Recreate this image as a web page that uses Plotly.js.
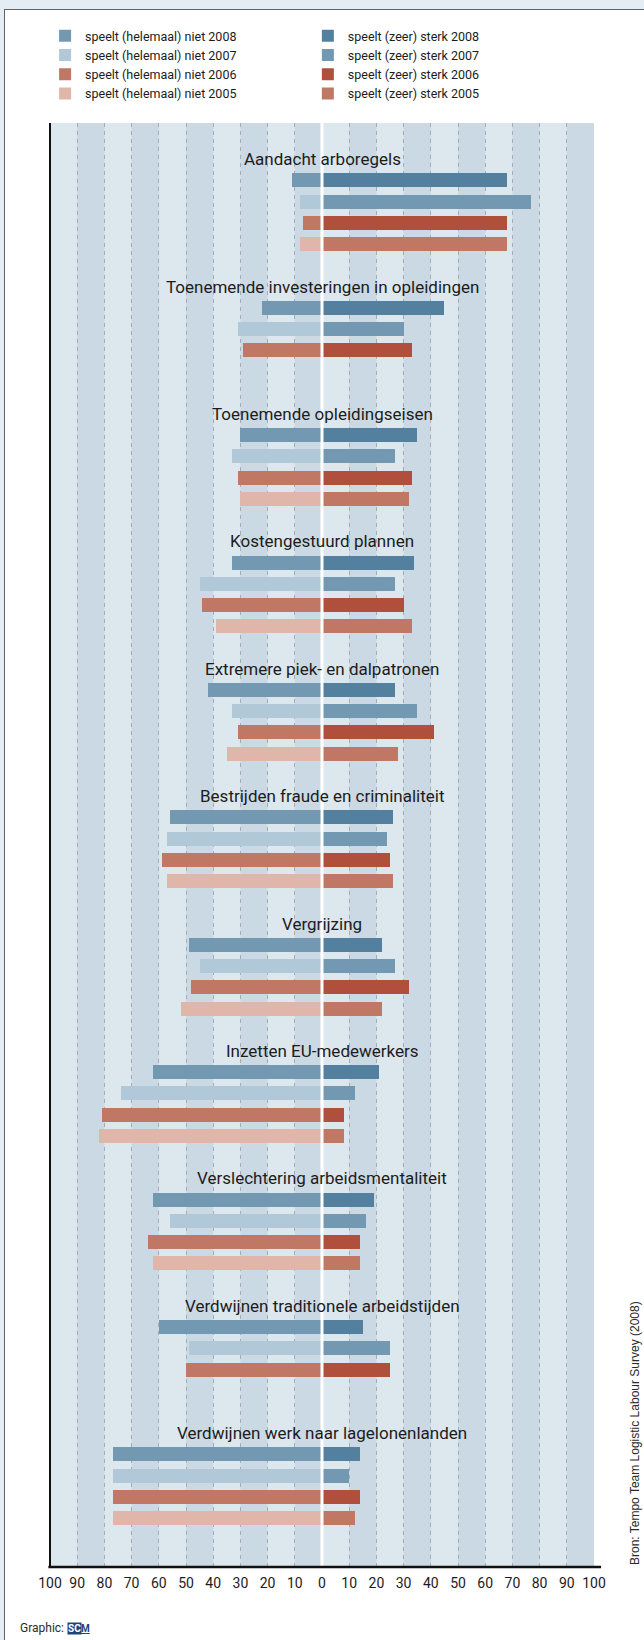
<!DOCTYPE html>
<html><head><meta charset="utf-8">
<script src="https://cdn.plot.ly/plotly-3.0.1.min.js"></script>
<style>
html,body{margin:0;padding:0;background:#e3edf3;width:644px;height:1640px;overflow:hidden;}
#panel{position:absolute;left:4px;top:9px;width:640px;height:1631px;background:#ffffff;border-left:1px solid #5f6468;border-top:1px solid #5f6468;}
#chart{position:absolute;left:0;top:0;width:644px;height:1640px;}
</style></head><body>
<div id="panel"></div>
<div id="chart"></div>
<script>
// ---- data ----
const categories = [
  "Aandacht arboregels",
  "Toenemende investeringen in opleidingen",
  "Toenemende opleidingseisen",
  "Kostengestuurd plannen",
  "Extremere piek- en dalpatronen",
  "Bestrijden fraude en criminaliteit",
  "Vergrijzing",
  "Inzetten EU-medewerkers",
  "Verslechtering arbeidsmentaliteit",
  "Verdwijnen traditionele arbeidstijden",
  "Verdwijnen werk naar lagelonenlanden"
];
const seriesNames = [
  "speelt (helemaal) niet 2008", "speelt (helemaal) niet 2007",
  "speelt (helemaal) niet 2006", "speelt (helemaal) niet 2005",
  "speelt (zeer) sterk 2008", "speelt (zeer) sterk 2007",
  "speelt (zeer) sterk 2006", "speelt (zeer) sterk 2005"
];
const niet2008  = [11, 22, 30, 33, 42, 56, 49, 62, 62, 60, 77];
const niet2007  = [ 8, 31, 33, 45, 33, 57, 45, 74, 56, 49, 77];
const niet2006  = [ 7, 29, 31, 44, 31, 59, 48, 81, 64, 50, 77];
const niet2005  = [ 8, null, 30, 39, 35, 57, 52, 82, 62, null, 77];
const sterk2008 = [68, 45, 35, 34, 27, 26, 22, 21, 19, 15, 14];
const sterk2007 = [77, 30, 27, 27, 35, 24, 27, 12, 16, 25, 10];
const sterk2006 = [68, 33, 33, 30, 41, 25, 32,  8, 14, 25, 14];
const sterk2005 = [68, null, 32, 33, 28, 26, 22,  8, 14, null, 12];
const tickValues = [-100,-90,-80,-70,-60,-50,-40,-30,-20,-10,0,10,20,30,40,50,60,70,80,90,100];
const tickLabels = ["100","90","80","70","60","50","40","30","20","10","0","10","20","30","40","50","60","70","80","90","100"];
const sourceText = "Bron: Tempo Team Logistic Labour Survey (2008)";

// ---- styling ----
const NARROW = "Roboto, 'Liberation Sans', sans-serif";
const REGULAR = "'Liberation Sans', Arial, sans-serif";
const colors = ["#7399b2","#b0c8d7","#c07864","#e0b6aa","#52809e","#7399b2","#b0503c","#c07864"];
const SLOTS = 6;             // rows per category: title + 4 bars + gap
const yPos = (i, j) => i * SLOTS + 1 + j;

const nietData = [niet2008, niet2007, niet2006, niet2005];
const sterkData = [sterk2008, sterk2007, sterk2006, sterk2005];

const traces = [];
nietData.forEach((arr, j) => {
  traces.push({
    type: "bar", orientation: "h", name: seriesNames[j],
    x: arr.map(v => v == null ? null : -v),
    y: categories.map((c, i) => yPos(i, j)),
    width: 0.66, marker: {color: colors[j], line: {width: 0}},
    hoverinfo: "skip", legend: "legend"
  });
});
sterkData.forEach((arr, j) => {
  traces.push({
    type: "bar", orientation: "h", name: seriesNames[4 + j],
    x: arr.slice(),
    y: categories.map((c, i) => yPos(i, j)),
    width: 0.66, marker: {color: colors[4 + j], line: {width: 0}},
    hoverinfo: "skip", legend: "legend2"
  });
});

const shapes = [];
for (let k = -100; k < 100; k += 10) {
  if (((k + 100) / 10) % 2 === 1) {
    shapes.push({type: "rect", xref: "x", yref: "paper", x0: k, x1: k + 10, y0: 0, y1: 1,
      fillcolor: "#cbd9e4", line: {width: 0}, layer: "below"});
  }
}
shapes.push({type: "line", xref: "x", yref: "paper", x0: 0, x1: 0, y0: 0, y1: 1,
  line: {color: "#ffffff", width: 3}, layer: "above"});
shapes.push({type: "line", xref: "paper", yref: "paper", x0: 0, x1: 0, y0: 0, y1: 1,
  line: {color: "#111111", width: 2}, layer: "above"});
shapes.push({type: "line", xref: "paper", yref: "paper", x0: -0.003, x1: 1.013, y0: 0, y1: 0,
  line: {color: "#111111", width: 2.5}, layer: "above"});

const annotations = categories.map((c, i) => ({
  xref: "x", yref: "y", x: 0, y: i * SLOTS, text: c, showarrow: false,
  xanchor: "center", yanchor: "middle",
  font: {family: NARROW, size: 17, color: "#1c1c1c"}
}));
annotations.push({
  xref: "paper", yref: "paper", x: 1.0754, y: 0, xanchor: "center", yanchor: "bottom",
  text: sourceText, textangle: -90, showarrow: false,
  font: {family: REGULAR, size: 12, color: "#2a2a2a"}
});
annotations.push({
  xref: "paper", yref: "paper", x: -0.059, y: -0.0425, xanchor: "left", yanchor: "middle",
  text: "Graphic:", showarrow: false, font: {family: NARROW, size: 12, color: "#2a2a2a"}
});
annotations.push({
  xref: "paper", yref: "paper", x: 0.0305, y: -0.0425, xanchor: "left", yanchor: "middle",
  text: "<b>SC</b>", showarrow: false, bgcolor: "#1f4478", borderpad: 0,
  font: {family: NARROW, size: 10, color: "#ffffff"}
});
annotations.push({
  xref: "paper", yref: "paper", x: 0.0545, y: -0.0425, xanchor: "left", yanchor: "middle",
  text: "<b><u>M</u></b>", showarrow: false, borderpad: 0,
  font: {family: NARROW, size: 10, color: "#1f4478"}
});

const layout = {
  width: 644, height: 1640,
  margin: {l: 50, r: 50, t: 123, b: 73, pad: 0},
  paper_bgcolor: "rgba(0,0,0,0)",
  plot_bgcolor: "#dde7ee",
  barmode: "overlay",
  bargap: 0,
  showlegend: true,
  xaxis: {
    range: [-100, 100], fixedrange: true,
    tickmode: "array", tickvals: tickValues, ticktext: tickLabels,
    showgrid: true, gridcolor: "#a4acb4", gridwidth: 1, griddash: "4px,4px",
    zeroline: false, showline: false, ticks: "",
    ticklabelstandoff: 6,
    tickfont: {family: NARROW, size: 14, color: "#1c1c1c"}
  },
  yaxis: {
    range: [66.3, -1.7], fixedrange: true,
    showgrid: false, zeroline: false, showticklabels: false, ticks: "", showline: false
  },
  legend: {
    x: -0.009, xanchor: "left", y: 1.0705, yanchor: "top",
    bgcolor: "rgba(0,0,0,0)", traceorder: "normal",
    font: {family: NARROW, size: 12.5, color: "#1c1c1c"}
  },
  legend2: {
    x: 0.474, xanchor: "left", y: 1.0705, yanchor: "top",
    bgcolor: "rgba(0,0,0,0)", traceorder: "normal",
    font: {family: NARROW, size: 12.5, color: "#1c1c1c"}
  },
  shapes: shapes,
  annotations: annotations
};

Plotly.newPlot("chart", traces, layout, {staticPlot: true, displayModeBar: false});
</script>
</body></html>
